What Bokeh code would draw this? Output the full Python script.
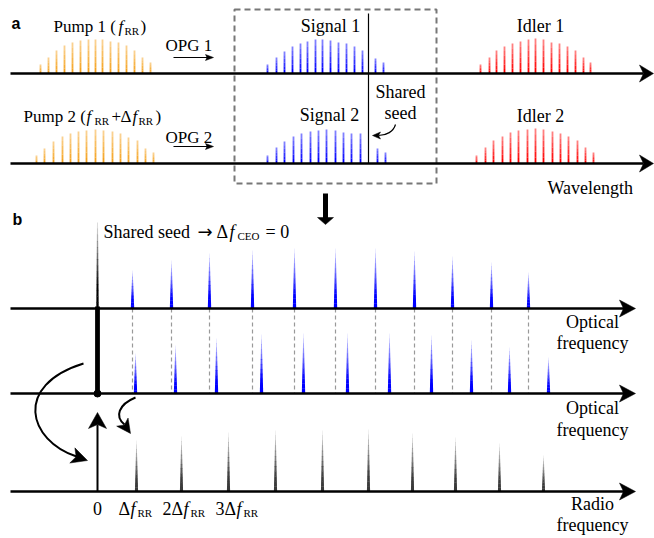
import math
from bokeh.plotting import figure
from bokeh.models import Range1d, ColumnDataSource
from bokeh.core.properties import value
from bokeh.embed import file_html
from bokeh.resources import INLINE

# ---------------- data (panel a: comb line positions / heights) ----------------
pump1_x = [40, 48, 56, 64, 72, 80, 88, 95, 102, 110, 118, 126, 134, 142, 150]
pump1_h = [9, 16, 23, 28, 31, 33, 34, 34, 34, 32, 31, 28, 23, 16, 11]
pump2_x = [36, 44, 53, 62, 70, 78, 86, 95, 103, 112, 120, 128, 137, 145, 153]
pump2_h = [8, 15, 22, 27, 30, 32, 33, 34, 33, 32, 30, 26, 23, 15, 11]
signal1_x = [267, 276, 284, 292, 300, 307, 315, 322, 330, 338, 346, 354, 362, 375, 383]
signal1_h = [9, 16, 22, 27, 30, 32, 34, 34, 33, 31, 30, 27, 23, 15, 11]
signal2_x = [267, 276, 284, 293, 301, 310, 318, 326, 335, 343, 351, 360, 377, 385]
signal2_h = [8, 16, 22, 27, 30, 32, 33, 34, 33, 31, 30, 30, 15, 11]
idler1_x = [480, 489, 496, 504, 512, 520, 528, 535, 543, 551, 559, 567, 575, 583, 590]
idler1_h = [9, 16, 23, 27, 30, 32, 34, 35, 34, 31, 30, 27, 23, 16, 11]
idler2_x = [476, 485, 493, 502, 510, 518, 527, 535, 543, 552, 560, 568, 577, 585, 593]
idler2_h = [8, 16, 23, 27, 31, 33, 34, 35, 34, 32, 30, 27, 23, 16, 11]
seed_x = 368

# ---------------- data (panel b) ----------------
comb1_x = [132, 171, 209, 252, 294, 335, 375, 414, 452, 491, 528]
comb1_h = [38, 48, 55, 58, 60, 60, 60, 57, 52, 46, 36]
comb2_x = [135, 175, 216, 261, 303, 347, 389, 431, 471, 509, 548]
comb2_h = [40, 48, 55, 59, 60, 60, 60, 58, 53, 46, 36]
rf_x = [136, 181, 228, 275, 322, 368, 412, 455, 499, 543]
rf_h = [51, 55, 59, 61, 61, 62, 58, 54, 48, 36]
seed_b_x = 97
seed_b_top = 222

# ---------------- layout constants ----------------
YA1, YA2 = 73, 163
YB1, YB2, YB3 = 308, 393, 491
FONT = "Liberation Serif"
ORANGE = "#F5A21E"
BLUE = "#0000FF"
RED = "#FF0000"
TY = -4  # baseline correction

p = figure(width=654, height=538, x_range=Range1d(0, 654), y_range=Range1d(538, 0),
           output_backend="svg", toolbar_location=None, min_border=0)
p.xaxis.visible = False
p.yaxis.visible = False
p.xgrid.visible = False
p.ygrid.visible = False
p.outline_line_color = None
p.background_fill_color = "white"
p.border_fill_color = "white"

heads_x, heads_y = [], []


def head(tx, ty, dx, dy, L, Wd, notch):
    n = math.hypot(dx, dy)
    dx, dy = dx / n, dy / n
    px, py = -dy, dx
    bx, by = tx - L * dx, ty - L * dy
    nx, ny = tx - (L - notch) * dx, ty - (L - notch) * dy
    heads_x.append([tx, bx + Wd * px, nx, bx - Wd * px])
    heads_y.append([ty, by + Wd * py, ny, by - Wd * py])


def thin_spikes(xs, hs, base, color, n=6, lw=1.8):
    x0, y0, x1, y1, al = [], [], [], [], []
    for x, h in zip(xs, hs):
        for k in range(n):
            ya = base - h + h * k / n
            yb = base - h + h * (k + 1) / n
            x0.append(x); x1.append(x); y0.append(ya); y1.append(yb)
            al.append(0.4 + 0.6 * (k + 1) / n)
    src = ColumnDataSource(dict(x0=x0, y0=y0, x1=x1, y1=y1, a=al))
    p.segment('x0', 'y0', 'x1', 'y1', source=src, line_color=color, line_alpha='a', line_width=lw)


def taper_spikes(xs, hs, base, color, hw=1.8, n=12, hw0=0.2):
    pxs, pys, al = [], [], []
    for x, h in zip(xs, hs):
        top = base - h
        for k in range(n):
            ya = top + h * k / n
            yb = top + h * (k + 1) / n + 0.3
            wa = hw0 + (hw - hw0) * k / n
            wb = hw0 + (hw - hw0) * (k + 1) / n
            pxs.append([x - wa, x + wa, x + wb, x - wb])
            pys.append([ya, ya, yb, yb])
            al.append(min(1.0, 0.05 + 1.2 * (k + 1) / n))
    src = ColumnDataSource(dict(xs=pxs, ys=pys, a=al))
    p.patches('xs', 'ys', source=src, fill_color=color, fill_alpha='a', line_color=None)


def txt(x, y, s, size="18px", style="normal", align="left", font=FONT):
    p.text(x=[x], y=[y + TY], text=[s], text_font=value(font), text_font_size=value(size),
           text_font_style=value(style), text_align=value(align),
           text_baseline=value("alphabetic"), text_color="black")


# ---------------- panel a ----------------
p.quad(left=[234], right=[436], top=[9], bottom=[183], fill_color=None,
       line_color="#777777", line_width=2, line_dash="6 4")

thin_spikes(pump1_x, pump1_h, YA1, ORANGE)
thin_spikes(pump2_x, pump2_h, YA2, ORANGE)
thin_spikes(signal1_x, signal1_h, YA1, BLUE)
thin_spikes(signal2_x, signal2_h, YA2, BLUE)
thin_spikes(idler1_x, idler1_h, YA1, RED)
thin_spikes(idler2_x, idler2_h, YA2, RED)

p.segment([seed_x], [13], [seed_x], [YA2], line_color="black", line_width=1.2)

for yy in (YA1, YA2):
    p.segment([10], [yy], [643], [yy], line_color="black", line_width=2.5)
    head(653, yy, 1, 0, 14, 8.5, 4)

for yy in (57, 146):
    p.segment([173], [yy], [208], [yy], line_color="black", line_width=1.2)
    head(213, yy, 1, 0, 8, 3, 1.5)

p.bezier(x0=[395], y0=[124], x1=[378], y1=[135], cx0=[393], cy0=[131], cx1=[386], cy1=[135],
         line_color="black", line_width=1.2)
head(372, 135, -1, 0, 8, 3.5, 2)

p.quad(left=[322.5], right=[327.5], top=[193], bottom=[218], fill_color="black", line_color=None)
heads_x.append([317, 333, 325]); heads_y.append([217, 217, 224])

txt(11, 27, "a", size="16px", style="bold", font="Liberation Sans")
txt(53, 29.5, "Pump 1 (", size="17px")
txt(118, 29.5, "f", size="17px", style="italic")
txt(124, 34, "RR", size="11px")
txt(140, 29.5, ")", size="17px")
txt(23, 119.5, "Pump 2 (", size="17px")
txt(86, 119.5, "f", size="17px", style="italic")
txt(94, 124, "RR", size="11px")
txt(111, 119.5, "+", size="17px")
txt(120, 119.5, "\u0394", size="17px")
txt(132, 119.5, "f", size="17px", style="italic")
txt(138, 124, "RR", size="11px")
txt(155, 119.5, ")", size="17px")
txt(165, 49, "OPG 1", size="17px")
txt(165, 141, "OPG 2", size="17px")
txt(330, 29, "Signal 1", align="center")
txt(329, 118, "Signal 2", align="center")
txt(400, 95, "Shared", align="center")
txt(400, 116, "seed", align="center")
txt(540, 29, "Idler 1", align="center")
txt(540, 119, "Idler 2", align="center")
txt(547, 191, "Wavelength")

# ---------------- panel b ----------------
p.segment(x0=comb1_x, y0=[YB1] * len(comb1_x), x1=comb1_x, y1=[YB2] * len(comb1_x),
          line_color="#999999", line_width=1.2, line_dash="4 3")

taper_spikes(comb1_x, comb1_h, YB1, BLUE, hw=1.7)
taper_spikes(comb2_x, comb2_h, YB2, BLUE, hw=1.7)
taper_spikes(rf_x, rf_h, YB3, "#3a3a3a", hw=1.6)

taper_spikes([seed_b_x], [YB1 - seed_b_top], YB1, "black", hw=1.2, hw0=0.5, n=14)
p.quad(left=[seed_b_x - 2.4], right=[seed_b_x + 2.4], top=[YB1 - 2], bottom=[YB2],
       fill_color="black", line_color=None)
p.scatter([seed_b_x], [YB2], size=7, color="black")

for yy in (YB1, YB2, YB3):
    p.segment([10], [yy], [625], [yy], line_color="black", line_width=2.5)
    head(635, yy, 1, 0, 16, 8.5, 4)

p.segment([seed_b_x], [YB3], [seed_b_x], [424], line_color="black", line_width=2)
head(seed_b_x, 412, 0, -1, 16, 9, 4)

p.bezier(x0=[83], y0=[363], x1=[76], y1=[456], cx0=[12], cy0=[385], cx1=[28], cy1=[440],
         line_color="black", line_width=2)
head(87, 460, 48, 16, 16, 8, 4)

p.bezier(x0=[135], y0=[397], x1=[124], y1=[424], cx0=[118], cy0=[404], cx1=[114], cy1=[416],
         line_color="black", line_width=2)
head(130, 433, 10, 14, 14, 7, 3.5)

p.patches(xs=heads_x, ys=heads_y, fill_color="black", line_color="black", line_width=0.5)

txt(12, 223, "b", size="16px", style="bold", font="Liberation Sans")
txt(103, 235, "Shared seed")
txt(197, 235, "\u2192", font="DejaVu Sans")
txt(216, 235, "\u0394")
txt(229, 235, "f", style="italic")
txt(237, 239, "CEO", size="11px")
txt(265, 235, "= 0")
txt(592, 325, "Optical", align="center")
txt(592, 346, "frequency", align="center")
txt(592, 411, "Optical", align="center")
txt(592, 433, "frequency", align="center")
txt(592, 507, "Radio", align="center")
txt(592, 528, "frequency", align="center")
txt(97, 512, "0", align="center")
txt(118, 512, "\u0394")
txt(130, 512, "f", style="italic")
txt(137, 516, "RR", size="11px")
txt(162, 512, "2\u0394")
txt(183, 512, "f", style="italic")
txt(190, 516, "RR", size="11px")
txt(215, 512, "3\u0394")
txt(236, 512, "f", style="italic")
txt(243, 516, "RR", size="11px")

open("out.html", "w").write(file_html(p, INLINE))
